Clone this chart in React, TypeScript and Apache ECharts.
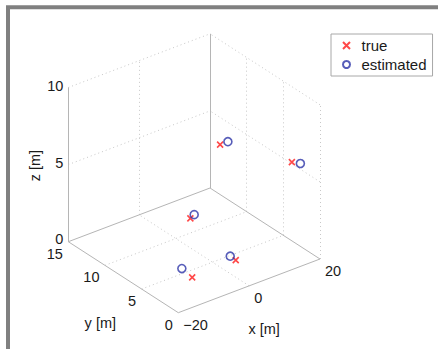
import React, { useEffect, useRef } from "react";
import * as echarts from "echarts";

// ---- data ----
const X_TICKS = [-20, 0, 20];
const Y_TICKS = [0, 5, 10, 15];
const Z_TICKS = [0, 5, 10];

const TRUE_X = [12.5, 16.2, 3.9, 4.7, -7.8];
const TRUE_Y = [10, 2, 9.9, 4.1, 4.0];
const TRUE_Z = [5.0, 6.0, 1.0, 0, 0];

const EST_X = [14.7, 18.6, 5.6, 4.8, -7.2];
const EST_Y = [10, 2, 10.2, 4.9, 5.7];
const EST_Z = [5.0, 5.7, 1.0, 0, 0];

const X_LABEL = "x [m]";
const Y_LABEL = "y [m]";
const Z_LABEL = "z [m]";
const SERIES_NAMES = ["true", "estimated"];

// ---- view (orthographic projection, matches MATLAB default 3D view) ----
const VIEW = {
  ox: 178.3,
  oy: 312.7,
  ex: [3.5425, -1.3425],
  ey: [-7.333, -4.733],
  ez: [0, -15.42],
};
const XMIN = X_TICKS[0];
const XMAX = X_TICKS[X_TICKS.length - 1];
const YMIN = Y_TICKS[0];
const YMAX = Y_TICKS[Y_TICKS.length - 1];
const ZMIN = Z_TICKS[0];
const ZMAX = Z_TICKS[Z_TICKS.length - 1];

function project(x: number, y: number, z: number): [number, number] {
  const xp = x - XMIN;
  const yp = y - YMIN;
  const zp = z - ZMIN;
  return [
    VIEW.ox + xp * VIEW.ex[0] + yp * VIEW.ey[0] + zp * VIEW.ez[0],
    VIEW.oy + xp * VIEW.ex[1] + yp * VIEW.ey[1] + zp * VIEW.ez[1],
  ];
}

type P3 = [number, number, number];
const seg = (a: P3, b: P3) => ({ coords: [project(...a), project(...b)] });

const FONT = '"Liberation Sans", Arial, Helvetica, sans-serif';
const TEXT_COLOR = "#1a1a1a";

export default function App() {
  const ref = useRef<HTMLDivElement>(null);

  useEffect(() => {
    if (!ref.current) return;
    const chart = echarts.init(ref.current, undefined, { renderer: "svg" });

    // solid box edges
    const solid = [
      seg([XMIN, YMAX, ZMIN], [XMIN, YMAX, ZMAX]),
      seg([XMIN, YMAX, ZMIN], [XMIN, YMIN, ZMIN]),
      seg([XMIN, YMIN, ZMIN], [XMAX, YMIN, ZMIN]),
      seg([XMAX, YMAX, ZMIN], [XMAX, YMAX, ZMAX]),
      seg([XMIN, YMAX, ZMIN], [XMAX, YMAX, ZMIN]),
      seg([XMAX, YMAX, ZMIN], [XMAX, YMIN, ZMIN]),
    ];

    // dotted grid lines
    const dotted: any[] = [];
    X_TICKS.filter((t) => t !== XMIN && t !== XMAX).forEach((x) => {
      dotted.push(seg([x, YMIN, ZMIN], [x, YMAX, ZMIN]));
      dotted.push(seg([x, YMAX, ZMIN], [x, YMAX, ZMAX]));
    });
    Y_TICKS.filter((t) => t !== YMIN && t !== YMAX).forEach((y) => {
      dotted.push(seg([XMIN, y, ZMIN], [XMAX, y, ZMIN]));
    });
    Y_TICKS.filter((t) => t !== YMAX).forEach((y) => {
      dotted.push(seg([XMAX, y, ZMIN], [XMAX, y, ZMAX]));
    });
    Z_TICKS.filter((t) => t !== ZMIN).forEach((z) => {
      dotted.push(seg([XMIN, YMAX, z], [XMAX, YMAX, z]));
      dotted.push(seg([XMAX, YMIN, z], [XMAX, YMAX, z]));
    });

    // text labels (ticks and axis names)
    const fmt = (v: number) => String(v).replace("-", "\u2212");
    const texts: any[] = [];
    Z_TICKS.forEach((z) =>
      texts.push({ p: project(XMIN, YMAX, z), t: fmt(z), dx: -5, dy: z === ZMIN ? -3 : -1.5, align: "right", rot: 0, fs: 14.5 })
    );
    Y_TICKS.forEach((y) =>
      texts.push({ p: project(XMIN, y, ZMIN), t: fmt(y), dx: -5.5, dy: 12, align: "right", rot: 0, fs: 14.5 })
    );
    X_TICKS.forEach((x) =>
      texts.push({ p: project(x, YMIN, ZMIN), t: fmt(x), dx: 5, dy: 12, align: "left", rot: 0, fs: 14.5 })
    );
    texts.push({ p: project((XMIN + XMAX) / 2, YMIN, ZMIN), t: X_LABEL, dx: 15, dy: 43, align: "center", rot: 0, fs: 14.5 });
    texts.push({ p: project(XMIN, (YMIN + YMAX) / 2, ZMIN), t: Y_LABEL, dx: -23, dy: 46, align: "center", rot: 0, fs: 14.5 });
    texts.push({ p: project(XMIN, YMAX, (ZMIN + ZMAX) / 2), t: Z_LABEL, dx: -33, dy: 1, align: "center", rot: Math.PI / 2, fs: 14.5 });

    const trueData = TRUE_X.map((x, i) => project(x, TRUE_Y[i], TRUE_Z[i]));
    const estData = EST_X.map((x, i) => project(x, EST_Y[i], EST_Z[i]));

    chart.setOption({
      animation: false,
      backgroundColor: "#ffffff",
      grid: { left: 0, right: 0, top: 0, bottom: 0 },
      xAxis: { type: "value", min: 0, max: 438, show: false },
      yAxis: { type: "value", min: 0, max: 349, inverse: true, show: false },
      legend: {
        data: SERIES_NAMES,
        orient: "vertical",
        left: 331,
        top: 34,
        padding: [4, 6, 4, 11],
        itemWidth: 20,
        itemHeight: 7,
        itemGap: 4,
        borderColor: "#a8a8a8",
        borderWidth: 1,
        backgroundColor: "#ffffff",
        selectedMode: false,
        textStyle: { fontSize: 15, fontFamily: FONT, color: TEXT_COLOR },
      },
      graphic: [
        {
          type: "rect",
          x: 8,
          y: 7.3,
          shape: { x: 0, y: 0, width: 450, height: 360 },
          style: { fill: "none", stroke: "#808080", lineWidth: 4 },
          silent: true,
          z: 100,
        },
      ],
      series: [
        {
          type: "lines",
          coordinateSystem: "cartesian2d",
          silent: true,
          data: dotted,
          lineStyle: { color: "#c8c8c8", width: 1, type: [1, 3], opacity: 1 },
          z: 1,
        },
        {
          type: "lines",
          coordinateSystem: "cartesian2d",
          silent: true,
          data: solid,
          lineStyle: { color: "#b5b5b5", width: 1, type: "solid", opacity: 1 },
          z: 2,
        },
        {
          type: "custom",
          coordinateSystem: "cartesian2d",
          silent: true,
          clip: false,
          data: texts.map((t) => t.p),
          renderItem: (params: any, api: any) => {
            const d = texts[params.dataIndex];
            const c = api.coord([api.value(0), api.value(1)]);
            return {
              type: "text",
              x: c[0] + d.dx,
              y: c[1] + d.dy,
              rotation: d.rot,
              style: {
                text: d.t,
                fill: TEXT_COLOR,
                fontSize: d.fs,
                fontFamily: FONT,
                align: d.align,
                verticalAlign: "middle",
              },
            };
          },
          z: 3,
        },
        {
          name: SERIES_NAMES[0],
          type: "scatter",
          data: trueData,
          symbol: "path://M0,0L10,10M10,0L0,10",
          symbolSize: 6,
          itemStyle: { color: "transparent", borderColor: "#ff1a1a", borderWidth: 1.6 },
          z: 5,
        },
        {
          name: SERIES_NAMES[1],
          type: "scatter",
          data: estData,
          symbol: "circle",
          symbolSize: 8,
          itemStyle: { color: "transparent", borderColor: "#2d35a8", borderWidth: 1.6 },
          z: 6,
        },
      ],
    });

    return () => chart.dispose();
  }, []);

  return (
    <div
      ref={ref}
      style={{ position: "fixed", left: 0, top: 0, width: 438, height: 349 }}
    />
  );
}
